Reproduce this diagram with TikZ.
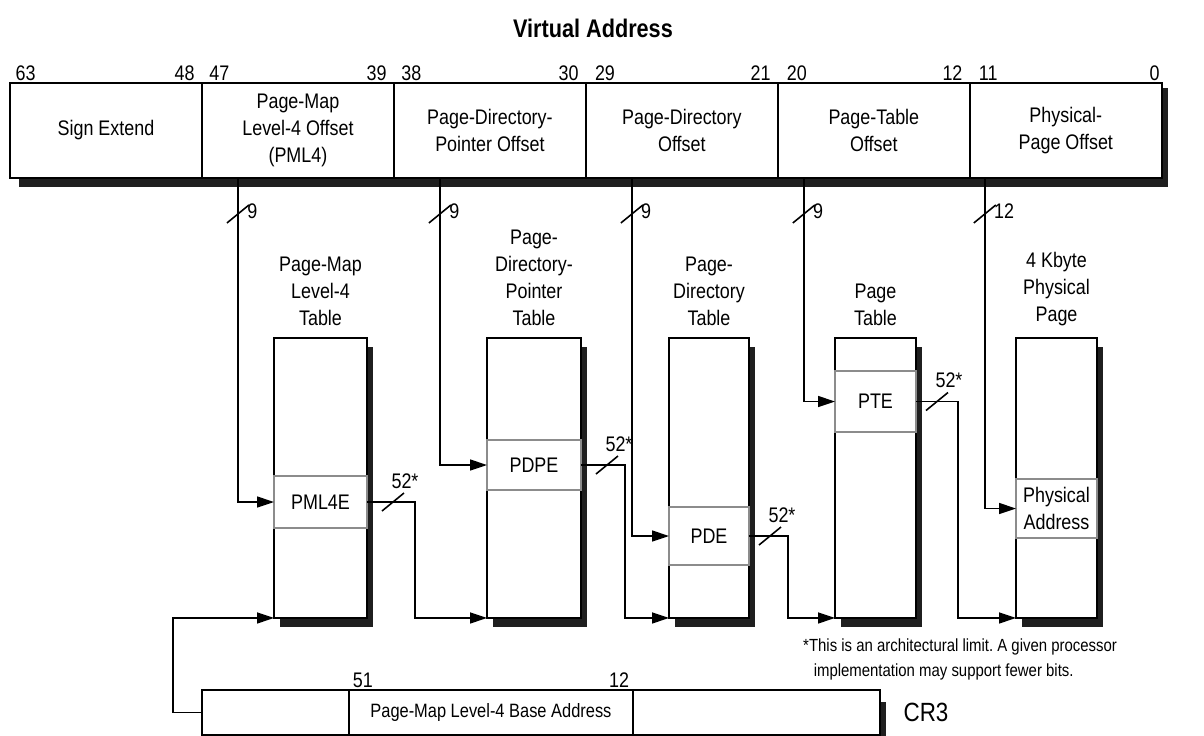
\documentclass[tikz,border=0pt]{standalone}
\usepackage{fontspec}
\setmainfont{Liberation Sans}[FakeStretch=0.85]
\usepackage{tikz}
\usetikzlibrary{arrows.meta,positioning,shadows,backgrounds}
\frenchspacing

\tikzset{
  field/.style={draw, line width=1pt, fill=white, minimum width=3.84cm, minimum height=1.9cm, inner sep=1pt, outer sep=0pt, align=center},
  bitnum/.style={inner sep=1pt},
  tbl/.style={draw, line width=1pt, fill=white, minimum height=5.6cm, outer sep=0pt, drop shadow={shadow xshift=0.12cm, shadow yshift=-0.18cm, fill=black!88, opacity=1}},
  entry/.style={draw=black!45, line width=1pt, fill=white, outer sep=0pt, align=center},
  hdr/.style={align=center, inner sep=1pt},
  wire/.style={line width=0.9pt},
  arr/.style={wire, -{Triangle[length=0.34cm, width=0.22cm]}},
  shadowfill/.style={fill=black!88},
  vbus/.pic={\draw[wire] (-11,9) -- (11,-9); \node[anchor=west, inner sep=0pt] at (9,-3) {#1};},
  hbus/.pic={\draw[wire] (-11,9) -- (11,-9); \node[anchor=south, inner sep=0pt] at (12,-13) {#1};},
}

\begin{document}
\begin{tikzpicture}[x=0.02cm, y=-0.02cm, font=\fontsize{12}{15.5}\selectfont]
    \useasboundingbox (0,0) rectangle (1204,736);
    % Title
    \node[font=\fontsize{14.5}{16}\selectfont\bfseries] (title) at (593,28) {Virtual Address};
    % Virtual address fields
    \node[field, anchor=north west] (sign) at (10,83) {Sign Extend};
    \node[field, right=0pt of sign] (pml4off) {Page-Map\\Level-4 Offset\\(PML4)};
    \node[field, right=0pt of pml4off] (pdpoff) {Page-Directory-\\Pointer Offset};
    \node[field, right=0pt of pdpoff] (pdoff) {Page-Directory\\Offset};
    \node[field, right=0pt of pdoff] (ptoff) {Page-Table\\Offset};
    \node[field, right=0pt of ptoff] (physoff) {Physical-\\Page Offset};
    \begin{scope}[on background layer]
        \fill[shadowfill] ([shift={(9,9)}]sign.south west) rectangle ([shift={(6,5)}]physoff.north east);
    \end{scope}
    % Bit numbers
    \node[bitnum, anchor=south west] at ([xshift=2pt]sign.north west) {63};
    \node[bitnum, anchor=south east] at ([xshift=-3pt]sign.north east) {48};
    \node[bitnum, anchor=south west] at ([xshift=3pt]pml4off.north west) {47};
    \node[bitnum, anchor=south east] at ([xshift=-3pt]pml4off.north east) {39};
    \node[bitnum, anchor=south west] at ([xshift=3pt]pdpoff.north west) {38};
    \node[bitnum, anchor=south east] at ([xshift=-3pt]pdpoff.north east) {30};
    \node[bitnum, anchor=south west] at ([xshift=4pt]pdoff.north west) {29};
    \node[bitnum, anchor=south east] at ([xshift=-3pt]pdoff.north east) {21};
    \node[bitnum, anchor=south west] at ([xshift=4pt]ptoff.north west) {20};
    \node[bitnum, anchor=south east] at ([xshift=-3pt]ptoff.north east) {12};
    \node[bitnum, anchor=south west] at ([xshift=4pt]physoff.north west) {11};
    \node[bitnum, anchor=south east] at ([xshift=0pt]physoff.north east) {0};
    % Tables
    \node[tbl, minimum width=1.86cm] (pml4t) at (320.5,478) {};
    \node[tbl, minimum width=1.88cm] (pdpt) at (534,478) {};
    \node[tbl, minimum width=1.6cm] (pdt) at (709,478) {};
    \node[tbl, minimum width=1.62cm] (pt) at (875.5,478) {};
    \node[tbl, minimum width=1.62cm] (page) at (1056.5,478) {};
    % Table headers
    \node[hdr, above=0.2cm of pml4t] (pml4h) {Page-Map\\Level-4\\Table};
    \node[hdr, above=0.2cm of pdpt] (pdph) {Page-\\Directory-\\Pointer\\Table};
    \node[hdr, above=0.2cm of pdt] (pdh) {Page-\\Directory\\Table};
    \node[hdr, above=0.2cm of pt] (pth) {Page\\Table};
    \node[hdr, above=0.2cm of page] (pageh) {4 Kbyte\\Physical\\Page};
    % Table entries
    \node[entry, anchor=north, minimum width=1.86cm, minimum height=1.04cm] (pml4e) at ([shift={(0,138)}]pml4t.north) {PML4E};
    \node[entry, anchor=north, minimum width=1.88cm, minimum height=1.0cm] (pdpe) at ([shift={(0,102)}]pdpt.north) {PDPE};
    \node[entry, anchor=north, minimum width=1.6cm, minimum height=1.16cm] (pde) at ([shift={(0,169)}]pdt.north) {PDE};
    \node[entry, anchor=north, minimum width=1.62cm, minimum height=1.22cm] (pte) at ([shift={(0,33)}]pt.north) {PTE};
    \node[entry, anchor=north, minimum width=1.62cm, minimum height=1.18cm] (paddr) at ([shift={(0,141)}]page.north) {Physical\\Address};
    % Offsets select the entries
    \draw[arr] ([shift={(36,0)}]pml4off.south west) |- (pml4e.west);
    \draw[arr] ([shift={(46,0)}]pdpoff.south west) |- (pdpe.west);
    \draw[arr] ([shift={(46,0)}]pdoff.south west) |- (pde.west);
    \draw[arr] ([shift={(26,0)}]ptoff.south west) |- (pte.west);
    \draw[arr] ([shift={(15,0)}]physoff.south west) |- (paddr.west);
    \path ([shift={(36,36)}]pml4off.south west) pic{vbus=9};
    \path ([shift={(46,36)}]pdpoff.south west) pic{vbus=9};
    \path ([shift={(46,36)}]pdoff.south west) pic{vbus=9};
    \path ([shift={(26,36)}]ptoff.south west) pic{vbus=9};
    \path ([shift={(15,36)}]physoff.south west) pic{vbus=12};
    % Entries give the base of the next table
    \draw[arr] (pml4e.east) -- ++(48,0) |- (pdpt.south west);
    \draw[arr] (pdpe.east) -- ++(44,0) |- (pdt.south west);
    \draw[arr] (pde.east) -- ++(39,0) |- (pt.south west);
    \draw[arr] (pte.east) -- ++(42,0) |- (page.south west);
    \path ([shift={(26,0)}]pml4e.east) pic{hbus=52*};
    \path ([shift={(26,0)}]pdpe.east) pic{hbus=52*};
    \path ([shift={(21,0)}]pde.east) pic{hbus=52*};
    \path ([shift={(21,0)}]pte.east) pic{hbus=52*};
    % Footnote
    \node[font=\fontsize{10}{14}\selectfont, align=left, anchor=north west] (note) at (797,633) {*This is an architectural limit. A given processor\\\hspace*{6pt}implementation may support fewer bits.};
    % CR3 register
    \node[field, anchor=north west, minimum width=2.94cm, minimum height=0.9cm] (cr3a) at (202,690) {};
    \node[field, right=0pt of cr3a, minimum width=5.68cm, minimum height=0.9cm, font=\fontsize{11}{13}\selectfont] (cr3b) {Page-Map Level-4 Base Address};
    \node[field, right=0pt of cr3b, minimum width=4.94cm, minimum height=0.9cm] (cr3c) {};
    \begin{scope}[on background layer]
        \fill[shadowfill] ([shift={(9,9)}]cr3a.south west) rectangle ([shift={(6,12)}]cr3c.north east);
    \end{scope}
    \node[bitnum, anchor=south west] at ([xshift=1pt]cr3b.north west) {51};
    \node[bitnum, anchor=south east] at ([xshift=-1pt]cr3b.north east) {12};
    \node[font=\fontsize{15}{17}\selectfont, right=0.35cm of cr3c] (cr3) {CR3};
    \draw[arr] (cr3a.west) -- ++(-29,0) |- (pml4t.south west);
\end{tikzpicture}
\end{document}
